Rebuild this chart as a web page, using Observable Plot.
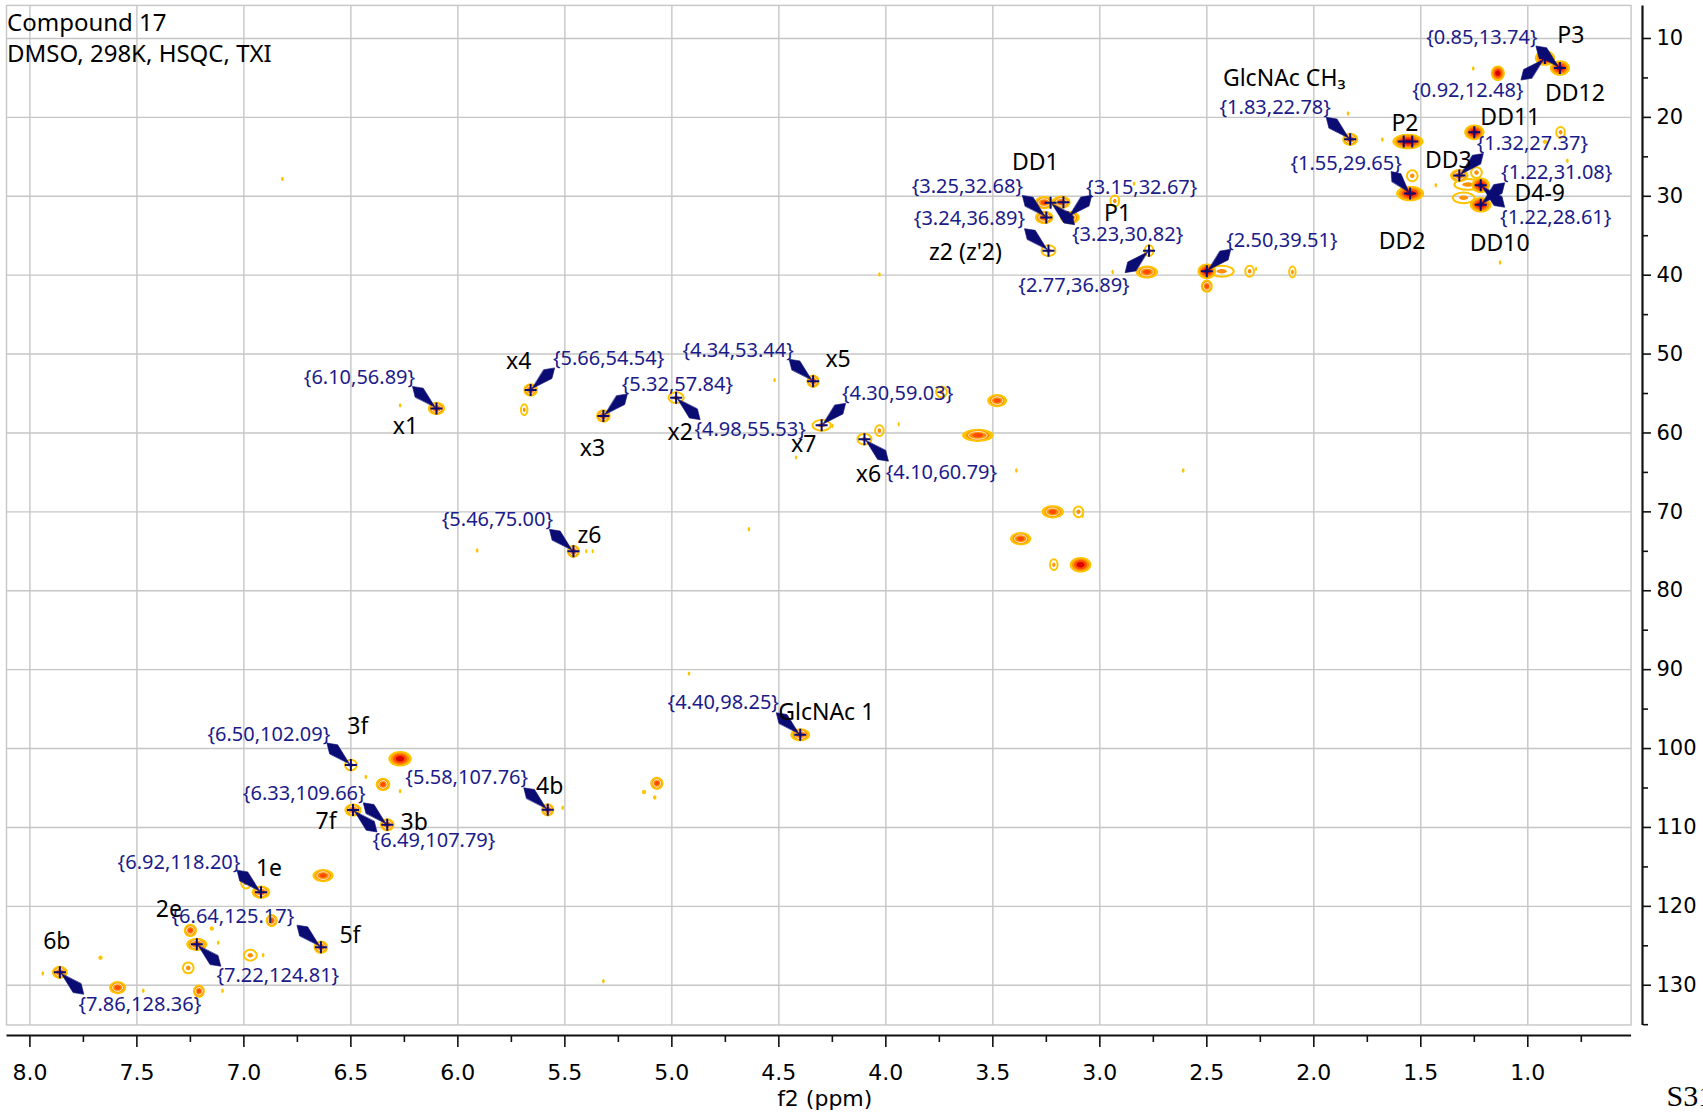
<!DOCTYPE html>
<html>
<head>
<meta charset="utf-8">
<script src="https://cdn.jsdelivr.net/npm/d3@7"></script>
<script src="https://cdn.jsdelivr.net/npm/@observablehq/plot@0.6"></script>
<style>
  html, body { margin: 0; padding: 0; background: #fff; }
  #chart { width: 1703px; height: 1113px; overflow: hidden; }
</style>
</head>
<body>
<div id="chart"></div>
<script>
// ---- Spectrum description -------------------------------------------------
const titleLines = ["Compound 17", "DMSO, 298K, HSQC, TXI"];
const pageTag = "S31";
const axisTitle = "f2 (ppm)";

// Axis ticks (ppm)
const xMajorTicks = [8.0, 7.5, 7.0, 6.5, 6.0, 5.5, 5.0, 4.5, 4.0, 3.5, 3.0, 2.5, 2.0, 1.5, 1.0];
const xMinorTicks = [7.75, 7.25, 6.75, 6.25, 5.75, 5.25, 4.75, 4.25, 3.75, 3.25, 2.75, 2.25, 1.75, 1.25, 0.75];
const yMajorTicks = [10, 20, 30, 40, 50, 60, 70, 80, 90, 100, 110, 120, 130];
const yMinorTicks = [15, 25, 35, 45, 55, 65, 75, 85, 95, 105, 115, 125, 135];

// Picked cross peaks: [f2 (1H), f1 (13C)]
const pickedPeaks = [
  [6.10, 56.89], [5.66, 54.54], [5.32, 57.84], [4.98, 55.53], [4.34, 53.44],
  [4.30, 59.03], [4.10, 60.79], [5.46, 75.00], [4.40, 98.25], [6.50, 102.09],
  [6.33, 109.66], [6.49, 107.79], [5.58, 107.76], [6.92, 118.20], [6.64, 125.17],
  [7.22, 124.81], [7.86, 128.36], [3.25, 32.68], [3.15, 32.67], [3.23, 30.82],
  [3.24, 36.89], [2.77, 36.89], [2.50, 39.51], [1.83, 22.78], [1.55, 29.65],
  [1.32, 27.37], [1.22, 31.08], [1.22, 28.61], [0.92, 12.48], [0.85, 13.74]
];
// Cursor marks without a shift label: [f2, f1]
const extraCursors = [[1.58, 23.05], [1.54, 23.05], [1.25, 21.9], [3.17, 30.75]];

// Assignments: [name, f2, f1]
const assignments = [
  ["x1", 6.10, 56.89], ["x4", 5.66, 54.54], ["x3", 5.32, 57.84], ["x2", 4.98, 55.53],
  ["x5", 4.34, 53.44], ["x7", 4.30, 59.03], ["x6", 4.10, 60.79], ["z6", 5.46, 75.00],
  ["GlcNAc 1", 4.40, 98.25], ["3f", 6.50, 102.09], ["3b", 6.33, 109.66], ["7f", 6.49, 107.79],
  ["4b", 5.58, 107.76], ["1e", 6.92, 118.20], ["5f", 6.64, 125.17], ["2e", 7.22, 124.81],
  ["6b", 7.86, 128.36], ["DD1", 3.25, 32.68], ["P1", 3.23, 30.82], ["z2 (z'2)", 3.24, 36.89],
  ["GlcNAc CH\u2083", 1.83, 22.78], ["P2", 1.56, 23.05], ["DD2", 1.55, 29.65], ["DD11", 1.25, 21.9],
  ["DD3", 1.32, 27.37], ["D4-9", 1.22, 31.08], ["DD10", 1.22, 31.08], ["DD12", 0.92, 12.48],
  ["P3", 0.85, 13.74]
];

// Contoured cross peaks: [f2, f1, contour depth (1-4), f2/f1 width ratio]
const aromaticPeaks = [
  [7.86, 128.36, 3, 1.2], [7.94, 128.5, 1, 0.6], [7.67, 126.5, 1, 1], [7.59, 130.3, 3, 1.3],
  [7.47, 130.7, 1, 0.6], [7.25, 123.05, 3, 1], [7.22, 124.81, 3, 1.6], [7.15, 122.8, 1, 1],
  [7.12, 124.6, 1, 0.6], [7.26, 127.8, 2, 1], [7.21, 130.75, 3, 0.9], [7.10, 130.7, 1, 0.6],
  [6.99, 117.05, 2, 0.9], [6.92, 118.20, 3, 1.4], [6.87, 121.8, 3, 0.9], [6.97, 126.2, 2, 1.2],
  [6.91, 126.2, 1, 0.6], [6.64, 125.17, 3, 1.1], [6.63, 116.1, 3, 1.6], [6.50, 102.09, 2, 1.1],
  [6.27, 101.3, 4, 1.5], [6.43, 103.6, 1, 0.6], [6.35, 104.55, 3, 1.1], [6.27, 105.4, 1, 0.6],
  [6.49, 107.79, 3, 1.3], [6.33, 109.66, 3, 1.1], [5.58, 107.76, 3, 1], [5.51, 107.5, 1, 0.6],
  [5.07, 104.4, 3, 1], [5.13, 105.5, 1, 1], [5.08, 106.2, 1, 0.8], [4.40, 98.25, 3, 1.5],
  [4.92, 90.5, 1, 0.6], [5.32, 129.5, 1, 0.6]
];
const sugarPeaks = [
  [6.10, 56.89, 3, 1.3], [6.27, 56.5, 1, 0.6], [5.66, 54.54, 3, 1.1], [5.69, 57.06, 2, 0.6],
  [5.32, 57.84, 3, 1.1], [4.98, 55.53, 2, 1.4], [4.34, 53.44, 3, 1], [4.52, 53.3, 1, 0.6],
  [4.30, 59.03, 2, 1.7], [4.25, 59.1, 1, 0.6], [4.10, 60.79, 2, 1.3], [4.03, 59.7, 2, 0.8],
  [3.94, 58.9, 1, 0.5], [4.42, 63.1, 1, 0.5], [3.74, 54.8, 2, 1], [3.48, 55.9, 3, 1.5],
  [3.57, 60.3, 3, 2.4], [3.39, 64.75, 1, 0.6], [2.61, 64.75, 1, 0.6], [3.22, 70.0, 3, 1.7],
  [3.10, 70.0, 2, 0.9], [3.08, 70.5, 1, 0.5], [3.37, 73.4, 3, 1.6], [3.215, 76.7, 2, 0.7],
  [3.09, 76.7, 4, 1.4], [5.46, 75.00, 3, 1], [5.40, 75.0, 1, 0.5], [5.37, 75.0, 1, 0.5],
  [5.91, 74.9, 1, 0.6], [4.64, 72.2, 1, 0.6]
];
const aliphaticPeaks = [
  [3.26, 30.8, 3, 1.5], [3.18, 30.75, 3, 1.4], [3.26, 32.68, 3, 1.4], [3.14, 32.7, 3, 1.5],
  [3.24, 36.89, 2, 1.3], [2.93, 30.6, 2, 0.8], [2.84, 28.4, 1, 0.6], [2.77, 36.89, 2, 0.8],
  [2.78, 39.6, 3, 1.7], [2.94, 39.6, 1, 0.6], [4.03, 39.9, 1, 0.6], [2.50, 39.51, 4, 1.2],
  [2.50, 41.4, 3, 0.9], [2.43, 39.5, 2, 2.2], [2.30, 39.5, 2, 0.8], [2.27, 39.2, 1, 0.5],
  [2.10, 39.6, 2, 0.6], [1.83, 22.78, 3, 1.2], [1.84, 19.5, 1, 0.6], [1.68, 22.8, 1, 0.6],
  [1.56, 23.05, 4, 2.0], [1.55, 29.65, 4, 1.8], [1.54, 27.4, 2, 1], [1.43, 28.6, 1, 0.6],
  [1.25, 21.9, 4, 1.3], [1.32, 27.37, 3, 1.4], [1.28, 28.5, 2, 2.5], [1.30, 30.2, 2, 2.0],
  [1.24, 27.0, 2, 1], [1.22, 28.61, 4, 1.2], [1.22, 31.08, 4, 1.4], [1.13, 38.4, 1, 0.6],
  [1.14, 14.4, 4, 0.9], [1.255, 13.8, 1, 0.6], [0.92, 12.48, 4, 1.3], [0.85, 13.74, 4, 1.3],
  [0.847, 21.9, 2, 0.8], [0.92, 23.1, 1, 1], [0.815, 25.5, 1, 0.6], [6.82, 27.8, 1, 0.6]
];

// ---- Annotation placement (pixel offsets from each peak) --------------------
const shiftLabelOffsets = [
  [-77, -31], [78, -31], [74, -31], [74, 32], [-75, -31],
  [76, -32], [77, 33], [-76, -32], [-77, -32], [-82, -30],
  [-83, -31], [81, 31], [-81, -32], [-82, -30], [-88, -31],
  [81, 31], [80, 32], [-79, -31], [74, -30], [77, 32],
  [-79, -32], [-75, 35], [75, -31], [-75, -32], [-64, -30],
  [73, -32], [76, -32], [75, 32], [-77, 33], [-78, -30]
];
const nameOffsets = [
  [-31, 18], [-12, -28], [-11, 33], [4, 35], [25, -22], [-18, 19], [4, 35], [16, -16],
  [26, -22], [7, -38], [27, -2], [-27, 12], [2, -23], [8, -24], [29, -12], [-28, -35],
  [-3, -31], [-11, -55], [67, 11], [-83, 2], [-66, -61], [-3, -18], [-8, 48], [36, -15],
  [-11, -15], [59, -11], [19, 39], [30, 36], [11, -32]
];

// ---- Geometry ----------------------------------------------------------------
const W = 1703, H = 1113;
const X_RANGE = [6.5, 1642], Y_RANGE = [5.4, 1035];
const X_DOMAIN = [8.107, 0.464], Y_DOMAIN = [5.87, 136.37];
const FRAME = {x1: 8.107, x2: 0.515, y1: 5.87, y2: 135.1};

const xs = Plot.scale({x: {type: "linear", domain: X_DOMAIN, range: X_RANGE}});
const ys = Plot.scale({y: {type: "linear", domain: Y_DOMAIN, range: Y_RANGE}});
const shift = (f2, f1, dx, dy) => [xs.invert(xs.apply(f2) + dx), ys.invert(ys.apply(f1) + dy)];

// ---- Colours -------------------------------------------------------------------
const NAVY = "#0b0b74";
const LABEL_BLUE = "#1b1b8a";
const GRID = "#c6c6c6";
const YELLOW = "#ffc400", ORANGE = "#ff9000", RED1 = "#ff4a00", RED2 = "#d80000";

// Elliptic contour symbol with a given width/height ratio
function ellipse(k) {
  return {
    draw(ctx, size) {
      const r = Math.sqrt(size / Math.PI);
      const rx = r * k, ry = r, c = 0.5523;
      ctx.moveTo(rx, 0);
      ctx.bezierCurveTo(rx, ry * c, rx * c, ry, 0, ry);
      ctx.bezierCurveTo(-rx * c, ry, -rx, ry * c, -rx, 0);
      ctx.bezierCurveTo(-rx, -ry * c, -rx * c, -ry, 0, -ry);
      ctx.bezierCurveTo(rx * c, -ry, rx, -ry * c, rx, 0);
      ctx.closePath();
    }
  };
}
// Cursor cross drawn as two strokes
const cursorCross = {
  draw(ctx, size) {
    const r = Math.sqrt(size / Math.PI);
    ctx.moveTo(-r, 0); ctx.lineTo(r, 0);
    ctx.moveTo(0, -r); ctx.lineTo(0, r);
  }
};

// Contour layers by depth: scale of the outer radius and paint
const LEVEL_R = {1: 2.2, 2: 5.4, 3: 6.6, 4: 7.8};
const LEVEL_LAYERS = {
  1: [{s: 1, fill: YELLOW}],
  2: [{s: 1, fill: "none", stroke: YELLOW, sw: 2}, {s: 0.42, fill: ORANGE}],
  3: [{s: 1, fill: YELLOW}, {s: 0.74, fill: ORANGE}, {s: 0.58, fill: "none", stroke: "#fff", sw: 0.8}, {s: 0.34, fill: RED1}],
  4: [{s: 1, fill: YELLOW}, {s: 0.78, fill: ORANGE}, {s: 0.58, fill: RED1}, {s: 0.36, fill: RED2}]
};

const peaks = [...aromaticPeaks, ...sugarPeaks, ...aliphaticPeaks]
  .map(([f2, f1, level, aspect]) => ({f2, f1, level, aspect}));

const peakMarks = [];
for (const level of [1, 2, 3, 4]) {
  const byAspect = d3.group(peaks.filter(p => p.level === level), p => p.aspect);
  for (const [aspect, group] of byAspect) {
    const sym = ellipse(aspect);
    for (const layer of LEVEL_LAYERS[level]) {
      peakMarks.push(Plot.dot(group, {
        x: "f2", y: "f1",
        r: LEVEL_R[level] * layer.s,
        symbol: sym,
        fill: layer.fill,
        stroke: layer.stroke || "none",
        strokeWidth: layer.sw || 0
      }));
    }
  }
}

// Callout arrows: slim kite from the peak toward the shift label
const arrowPoints = [];
pickedPeaks.forEach(([f2, f1], i) => {
  const [dx, dy] = shiftLabelOffsets[i];
  const px = xs.apply(f2), py = ys.apply(f1);
  const tx = px + Math.sign(dx) * Math.min(24, Math.abs(dx) - 45);
  const ty = py + Math.sign(dy) * 22;
  const L = Math.hypot(tx - px, ty - py);
  const ux = (tx - px) / L, uy = (ty - py) / L;
  const nx = -uy, ny = ux;
  const w = 6, m = 0.72 * L;
  const pts = [
    [px + ux * 2, py + uy * 2],
    [px + ux * m + nx * w, py + uy * m + ny * w],
    [tx, ty],
    [px + ux * m - nx * w, py + uy * m - ny * w]
  ];
  pts.forEach(([X, Y]) => arrowPoints.push({id: i, f2: xs.invert(X), f1: ys.invert(Y)}));
});

const cursors = [...pickedPeaks, ...extraCursors].map(([f2, f1]) => ({f2, f1}));

const shiftLabels = pickedPeaks.map(([f2, f1], i) => {
  const [dx, dy] = shiftLabelOffsets[i];
  const [lx, ly] = shift(f2, f1, dx, dy);
  return {lx, ly, text: `{${f2.toFixed(2)},${f1.toFixed(2)}}`};
});
const nameLabels = assignments.map(([name, f2, f1], i) => {
  const [dx, dy] = nameOffsets[i];
  const [lx, ly] = shift(f2, f1, dx, dy);
  return {lx, ly, name};
});

const SANS = "Noto Sans";
const AXIS_FONT = "DejaVu Sans";

const chart = Plot.plot({
  width: W, height: H,
  marginLeft: X_RANGE[0], marginRight: W - X_RANGE[1],
  marginTop: Y_RANGE[0], marginBottom: H - Y_RANGE[1],
  style: {background: "#fff", fontFamily: AXIS_FONT, overflow: "hidden"},
  x: {type: "linear", domain: X_DOMAIN, range: X_RANGE},
  y: {type: "linear", domain: Y_DOMAIN, range: Y_RANGE},
  marks: [
    // grid and frame
    Plot.ruleX(xMajorTicks, {y1: FRAME.y1, y2: FRAME.y2, stroke: GRID, strokeWidth: 1.4}),
    Plot.ruleY(yMajorTicks, {x1: FRAME.x1, x2: FRAME.x2, stroke: GRID, strokeWidth: 1.4}),
    Plot.rect([FRAME], {x1: "x1", x2: "x2", y1: "y1", y2: "y2", fill: "none", stroke: GRID, strokeWidth: 1.4}),

    // contours
    ...peakMarks,

    // callout arrows and cursors
    Plot.line(arrowPoints, {x: "f2", y: "f1", z: "id", curve: "linear-closed", fill: NAVY, stroke: NAVY, strokeWidth: 0.6}),
    Plot.dot(cursors, {x: "f2", y: "f1", r: 6, symbol: cursorCross, fill: "none", stroke: NAVY, strokeWidth: 2}),

    // labels
    Plot.text(shiftLabels, {x: "lx", y: "ly", text: "text", fill: LABEL_BLUE, fontSize: 20, fontFamily: SANS}),
    Plot.text(nameLabels, {x: "lx", y: "ly", text: "name", fill: "#000", fontSize: 23, fontFamily: SANS}),

    // title block
    Plot.text([titleLines[0]], {text: d => d, frameAnchor: "top-left", textAnchor: "start", lineAnchor: "top", dx: 0, dy: 8, fontSize: 24, fontFamily: SANS, fill: "#000"}),
    Plot.text([titleLines[1]], {text: d => d, frameAnchor: "top-left", textAnchor: "start", lineAnchor: "top", dx: 0, dy: 39.5, fontSize: 24, fontFamily: SANS, fill: "#000"}),

    // axes
    Plot.ruleY([Y_DOMAIN[1]], {x1: FRAME.x1, x2: FRAME.x2, stroke: "#111", strokeWidth: 2.2}),
    Plot.ruleX([X_DOMAIN[1]], {y1: FRAME.y1, y2: FRAME.y2, stroke: "#111", strokeWidth: 2.2}),
    Plot.axisX(xMajorTicks, {anchor: "bottom", tickSize: 12, tickPadding: 17, tickFormat: d => d.toFixed(1), fontSize: 22, fontFamily: AXIS_FONT, label: null, stroke: "#111", strokeWidth: 1.6, fill: "#000"}),
    Plot.axisX(xMinorTicks, {anchor: "bottom", tickSize: 7, tickFormat: () => "", label: null, stroke: "#111", strokeWidth: 1.6}),
    Plot.axisY(yMajorTicks, {anchor: "right", tickSize: 8, tickPadding: 6, tickFormat: d => String(d), fontSize: 21, fontFamily: AXIS_FONT, label: null, stroke: "#111", strokeWidth: 1.6, fill: "#000"}),
    Plot.axisY(yMinorTicks, {anchor: "right", tickSize: 5, tickFormat: () => "", label: null, stroke: "#111", strokeWidth: 1.6}),
    Plot.text([axisTitle], {text: d => d, frameAnchor: "bottom", dy: 70, fontSize: 22, fontFamily: AXIS_FONT, fill: "#000"}),
    Plot.text([pageTag], {text: d => d, frameAnchor: "bottom-right", textAnchor: "start", dx: 24, dy: 70, fontSize: 30, fontFamily: "Liberation Serif", fill: "#000"})
  ]
});

document.getElementById("chart").appendChild(chart);
</script>
</body>
</html>
